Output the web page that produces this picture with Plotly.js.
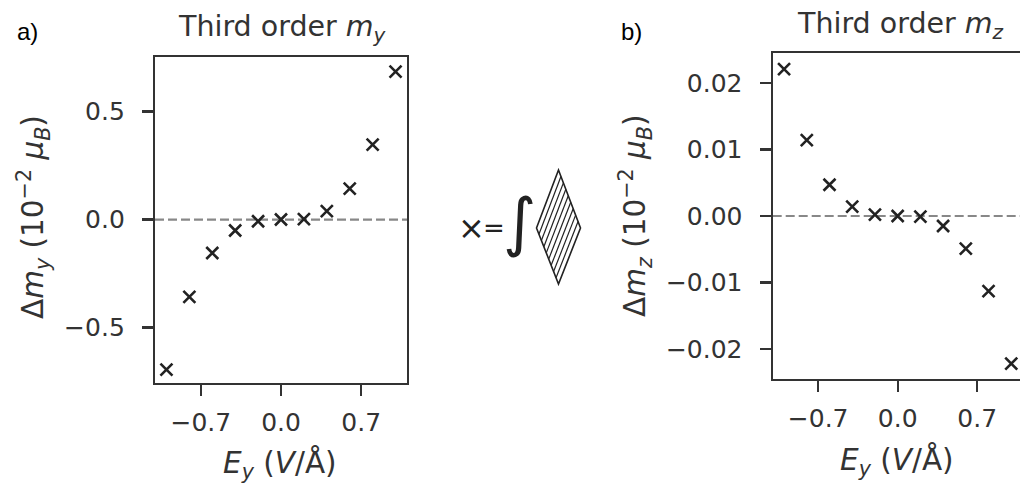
<!DOCTYPE html>
<html>
<head>
<meta charset="utf-8">
<script src="https://cdn.plot.ly/plotly-3.0.1.min.js"></script>
<style>html,body{margin:0;padding:0;background:#fff;}#chart{width:1020px;height:483px;}</style>
</head>
<body>
<div id="chart"></div>
<script>
// Data
const fieldEy = [-1.0, -0.8, -0.6, -0.4, -0.2, 0.0, 0.2, 0.4, 0.6, 0.8, 1.0];
const deltaMy = [-0.695, -0.358, -0.155, -0.051, -0.008, 0.0, 0.002, 0.039, 0.143, 0.347, 0.685];
const deltaMz = [0.0221, 0.0114, 0.0047, 0.0014, 0.0002, 0.0, -0.0001, -0.0015, -0.0049, -0.0113, -0.0222];
const xTickVals = [-0.7, 0.0, 0.7];
const xTickText = ['\u22120.7', '0.0', '0.7'];
const yTickValsA = [-0.5, 0.0, 0.5];
const yTickTextA = ['\u22120.5', '0.0', '0.5'];
const yTickValsB = [-0.02, -0.01, 0.0, 0.01, 0.02];
const yTickTextB = ['\u22120.02', '\u22120.01', '0.00', '0.01', '0.02'];

const W = 1020, H = 483;
const px = v => v / W;
const py = v => 1 - v / H;

const textCol = '#333333';
const lineCol = '#333333';
const FONT = 'DejaVu Sans';

const marker = {symbol: 'x-thin', size: 12, line: {width: 2.6, color: '#222'}, color: '#222'};

const traces = [
  {x: fieldEy, y: deltaMy, xaxis: 'x', yaxis: 'y', mode: 'markers', marker: marker, type: 'scatter', cliponaxis: false},
  {x: fieldEy, y: deltaMz, xaxis: 'x2', yaxis: 'y2', mode: 'markers', marker: marker, type: 'scatter', cliponaxis: false}
];

function axisBase() {
  return {
    showline: true, linecolor: lineCol, linewidth: 2.2, mirror: true,
    ticks: 'outside', ticklen: 11, tickwidth: 2.2, tickcolor: lineCol,
    showgrid: false, zeroline: false, fixedrange: true,
    tickfont: {family: FONT, size: 25, color: textCol}
  };
}

const xa = Object.assign(axisBase(), {domain: [px(155), px(407)], range: [-1.1, 1.1], anchor: 'y', tickmode: 'array', tickvals: xTickVals, ticktext: xTickText, ticklabelstandoff: 5});
const ya = Object.assign(axisBase(), {domain: [py(383), py(56.7)], range: [-0.757, 0.754], anchor: 'x', tickmode: 'array', tickvals: yTickValsA, ticktext: yTickTextA, ticklabelstandoff: 12});
const xb = Object.assign(axisBase(), {domain: [px(772.7), 1], range: [-1.1, 1.077], anchor: 'y2', tickmode: 'array', tickvals: xTickVals, ticktext: xTickText, ticklabelstandoff: 5});
const yb = Object.assign(axisBase(), {domain: [py(379), py(52.7)], range: [-0.02452, 0.02456], anchor: 'x2', mirror: false, tickmode: 'array', tickvals: yTickValsB, ticktext: yTickTextB, ticklabelstandoff: 12});

// Hatched diamond (decoration)
const dTop = [558.5, 170], dRight = [580.5, 228], dBottom = [558.5, 284], dLeft = [536.5, 228];
const shapes = [
  {type: 'line', xref: 'x domain', yref: 'y', x0: 0, x1: 1, y0: 0, y1: 0, layer: 'below', line: {color: '#888', width: 2.2, dash: '9px,4px'}},
  {type: 'line', xref: 'x2 domain', yref: 'y2', x0: 0, x1: 1, y0: 0, y1: 0, layer: 'below', line: {color: '#888', width: 2.2, dash: '9px,4px'}},
  {type: 'path', xref: 'paper', yref: 'paper', line: {color: '#222', width: 1.6},
   path: 'M' + px(dTop[0]) + ',' + py(dTop[1]) + ' L' + px(dRight[0]) + ',' + py(dRight[1]) + ' L' + px(dBottom[0]) + ',' + py(dBottom[1]) + ' L' + px(dLeft[0]) + ',' + py(dLeft[1]) + ' Z'}
];
const nHatch = 8;
for (let k = 1; k <= nHatch; k++) {
  const t = k / (nHatch + 1);
  const a = [dLeft[0] + t * (dBottom[0] - dLeft[0]), dLeft[1] + t * (dBottom[1] - dLeft[1])];
  const b = [dTop[0] + t * (dRight[0] - dTop[0]), dTop[1] + t * (dRight[1] - dTop[1])];
  shapes.push({type: 'line', xref: 'paper', yref: 'paper', x0: px(a[0]), y0: py(a[1]), x1: px(b[0]), y1: py(b[1]), line: {color: '#222', width: 1.2}});
}

function ann(text, x, y, size, opts) {
  return Object.assign({text: text, xref: 'paper', yref: 'paper', x: px(x), y: py(y), xanchor: 'center', yanchor: 'middle', showarrow: false, font: {family: FONT, size: size, color: textCol}}, opts || {});
}

const annotations = [
  ann('a)', 27, 32, 24, {font: {family: 'Liberation Sans', size: 24, color: '#000'}}),
  ann('b)', 631, 32, 24, {font: {family: 'Liberation Sans', size: 24, color: '#000'}}),
  ann('Third order <i>m</i><sub><i>y</i></sub>', 282, 29, 28.5),
  ann('Third order <i>m</i><sub><i>z</i></sub>', 900, 26, 28.5),
  ann('\u0394<i>m</i><sub><i>y</i></sub> (10<sup>\u22122</sup> <i>\u03bc</i><sub><i>B</i></sub>)', 33, 217, 29.5, {textangle: -90}),
  ann('\u0394<i>m</i><sub><i>z</i></sub> (10<sup>\u22122</sup> <i>\u03bc</i><sub><i>B</i></sub>)', 636, 216, 29.5, {textangle: -90}),
  ann('<i>E</i><sub><i>y</i></sub> (<i>V</i>/\u00c5)', 280, 464, 29.5),
  ann('<i>E</i><sub><i>y</i></sub> (<i>V</i>/\u00c5)', 897, 461, 29.5),
  ann('\u00d7', 471, 228, 32, {font: {family: FONT, size: 32, color: '#222'}}),
  ann('=', 494, 228, 26, {font: {family: FONT, size: 26, color: '#222'}}),
  ann('\u222b', 519, 222, 64, {font: {family: FONT, size: 64, color: '#222'}})
];

const layout = {
  width: W, height: H,
  margin: {l: 0, r: 0, t: 0, b: 0},
  paper_bgcolor: '#fff', plot_bgcolor: '#fff',
  showlegend: false,
  xaxis: xa, yaxis: ya, xaxis2: xb, yaxis2: yb,
  shapes: shapes,
  annotations: annotations
};

Plotly.newPlot('chart', traces, layout, {displayModeBar: false, staticPlot: true});
</script>
</body>
</html>
